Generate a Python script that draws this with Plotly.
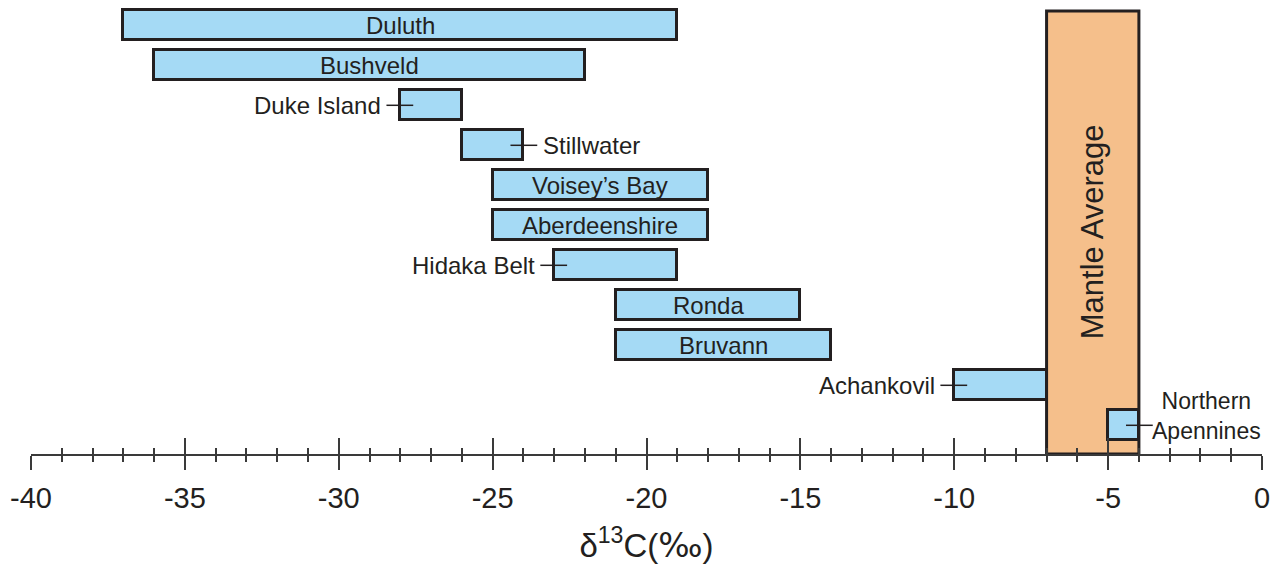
import plotly.graph_objects as go

# ---- data ----
sites = ["Duluth", "Bushveld", "Duke Island", "Stillwater", "Voisey’s Bay",
         "Aberdeenshire", "Hidaka Belt", "Ronda", "Bruvann", "Achankovil",
         "Northern<br>Apennines"]
d13c_min = [-37, -36, -28, -26, -25, -25, -23, -21, -21, -10, -5]
d13c_max = [-19, -22, -26, -24, -18, -18, -19, -15, -14, -7, -4]
mantle_range = [-7, -4]
mantle_label = "Mantle Average"
x_tickvals = [-40, -35, -30, -25, -20, -15, -10, -5, 0]
x_ticktext = ["-40", "-35", "-30", "-25", "-20", "-15", "-10", "-5", "0"]
x_title = "δ<sup>13</sup>C(<span style='font-family:DejaVu Sans'>‰</span>)"

# ---- style ----
label_side = ["in", "in", "left", "right", "in", "in", "left", "in", "in", "left", "right"]
INK = "#231F20"
AXIS = "#3A3A3A"
BLUE = "#A5DAF5"
ORANGE = "#F5BF8B"
FONT = "Liberation Sans, Arial, sans-serif"
LABEL_SIZE = 24

n = len(sites)
rows = [n - 1 - i for i in range(n)]
widths = [b - a for a, b in zip(d13c_min, d13c_max)]

fig = go.Figure()
fig.add_trace(go.Bar(
    y=rows, x=widths, base=d13c_min, orientation="h", width=0.75,
    marker=dict(color=BLUE, line=dict(color=INK, width=3)),
    hoverinfo="skip", showlegend=False,
))
# invisible trace so the overlay axis (inside ticks) is drawn
fig.add_trace(go.Scatter(x=x_tickvals, y=[0] * len(x_tickvals), xaxis="x2",
                         mode="none", showlegend=False, hoverinfo="skip"))

shapes = []
annotations = []
# mantle average box
shapes.append(dict(type="rect", xref="x", yref="paper", x0=mantle_range[0], x1=mantle_range[1],
                   y0=0, y1=0.976, fillcolor=ORANGE, line=dict(color=INK, width=3), layer="below"))
annotations.append(dict(x=sum(mantle_range) / 2, y=0.49, xref="x", yref="paper", text=mantle_label,
                        textangle=-90, showarrow=False, font=dict(size=31, color=INK, family=FONT)))

lead_in, lead_out = 0.42, 0.45
for i, name in enumerate(sites):
    y = rows[i]
    side = label_side[i]
    if side == "in":
        annotations.append(dict(x=(d13c_min[i] + d13c_max[i]) / 2, y=y, xref="x", yref="y",
                                text=name, showarrow=False,
                                font=dict(size=LABEL_SIZE, color=INK, family=FONT)))
    elif side == "left":
        edge = d13c_min[i]
        shapes.append(dict(type="line", xref="x", yref="y", x0=edge - lead_out, x1=edge + lead_in,
                           y0=y, y1=y, line=dict(color=INK, width=1.5)))
        annotations.append(dict(x=edge - lead_out, y=y, xref="x", yref="y", text=name,
                                xanchor="right", xshift=-3, showarrow=False,
                                font=dict(size=LABEL_SIZE, color=INK, family=FONT)))
    else:
        edge = d13c_max[i]
        shapes.append(dict(type="line", xref="x", yref="y", x0=edge - lead_in, x1=edge + lead_out,
                           y0=y, y1=y, line=dict(color=INK, width=1.5)))
        multi = "<br>" in name
        annotations.append(dict(x=edge + lead_out, y=y, xref="x", yref="y", text=name,
                                xanchor="left", xshift=-3 if multi else 4, yshift=9 if multi else 0,
                                align="center", showarrow=False,
                                font=dict(size=23 if multi else LABEL_SIZE, color=INK, family=FONT)))

fig.update_layout(
    width=1276, height=574,
    margin=dict(l=31, r=14, t=0, b=120),
    paper_bgcolor="white", plot_bgcolor="white",
    font=dict(family=FONT, color=INK),
    bargap=0,
    shapes=shapes, annotations=annotations,
    xaxis=dict(
        range=[-40, 0], showgrid=False, zeroline=False,
        showline=True, linecolor=AXIS, linewidth=2,
        tickmode="array", tickvals=x_tickvals, ticktext=x_ticktext,
        ticks="outside", ticklen=14, tickwidth=2, tickcolor=AXIS,
        minor=dict(tickmode="linear", tick0=0, dtick=1, ticks="outside", ticklen=6,
                   tickwidth=1.5, tickcolor=AXIS, showgrid=False),
        tickfont=dict(size=29, color=INK, family=FONT),
        ticklabelstandoff=3,
        title=dict(text=x_title, font=dict(size=33, color=INK, family=FONT), standoff=21),
        fixedrange=True,
    ),
    xaxis2=dict(
        range=[-40, 0], overlaying="x", anchor="y", side="bottom",
        showgrid=False, zeroline=False, showline=False, showticklabels=False,
        tickmode="array", tickvals=x_tickvals,
        ticks="inside", ticklen=16, tickwidth=2, tickcolor=AXIS,
        minor=dict(tickmode="linear", tick0=0, dtick=1, ticks="inside", ticklen=6,
                   tickwidth=1.5, tickcolor=AXIS, showgrid=False),
        fixedrange=True,
    ),
    yaxis=dict(range=[-0.7175, 10.6325], visible=False, fixedrange=True),
)

fig.write_html("out.html", config={"displayModeBar": False},
               post_script="document.body.style.margin='0';")
